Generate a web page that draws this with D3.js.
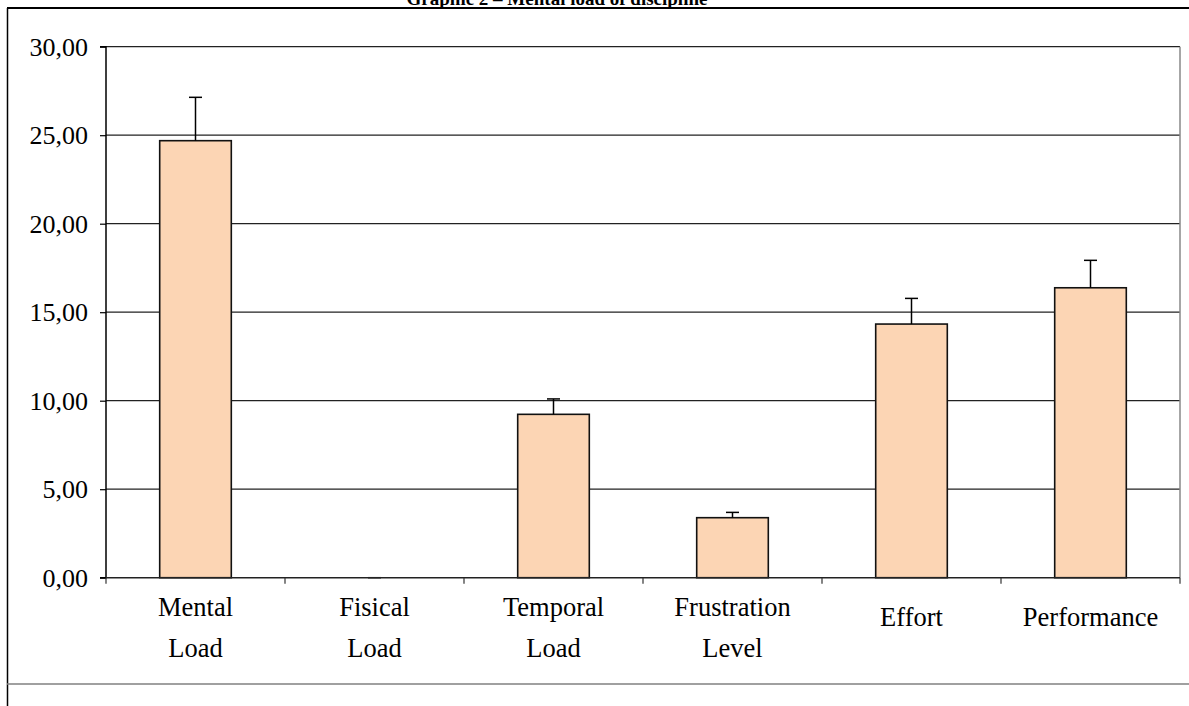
<!DOCTYPE html>
<html>
<head>
<meta charset="utf-8">
<script src="https://cdn.jsdelivr.net/npm/d3@7"></script>
<style>
  body { margin: 0; background: #fff; }
  svg text { font-family: "Liberation Serif", "DejaVu Serif", serif; fill: #000; }
</style>
</head>
<body>
<script>
// chart data
var categories = [['Mental', 'Load'], ['Fisical', 'Load'], ['Temporal', 'Load'],
                  ['Frustration', 'Level'], ['Effort'], ['Performance']];
var values = [24.69, 0, 9.23, 3.39, 14.33, 16.38];
var errors = [2.45, 0, 0.87, 0.30, 1.45, 1.55];
var yTicks = [0, 5, 10, 15, 20, 25, 30];
var title = 'Graphic 2 – Mental load of discipline';

var W = 1189, H = 706;
var margin = {top: 46.7, right: 9, bottom: 128.3, left: 106},
    w = W - margin.left - margin.right,
    h = H - margin.top - margin.bottom;

var svg = d3.select('body').append('svg')
    .attr('width', W)
    .attr('height', H);

// outer frame pieces
svg.append('line')
    .attr('x1', 7).attr('x2', W).attr('y1', 8).attr('y2', 8)
    .attr('stroke', '#000').attr('stroke-width', 2);
svg.append('line')
    .attr('x1', 7.5).attr('x2', 7.5).attr('y1', 8).attr('y2', H)
    .attr('stroke', '#000').attr('stroke-width', 1.5);
svg.append('line')
    .attr('x1', 7).attr('x2', W).attr('y1', 684).attr('y2', 684)
    .attr('stroke', '#808080').attr('stroke-width', 1.5);

svg.append('text')
    .attr('x', 557).attr('y', 5)
    .attr('text-anchor', 'middle')
    .style('font-size', '19px')
    .style('font-weight', 'bold')
    .text(title);

var g = svg.append('g')
    .attr('transform', 'translate(' + margin.left + ',' + margin.top + ')');

var xScale = d3.scaleBand()
    .domain(d3.range(categories.length))
    .range([0, w])
    .paddingInner(0)
    .paddingOuter(0);

var yScale = d3.scaleLinear()
    .domain([0, 30])
    .range([h, 0]);

// gridlines
g.selectAll('.grid')
  .data(yTicks.slice(1))
  .enter()
  .append('line')
    .attr('class', 'grid')
    .attr('x1', 0).attr('x2', w)
    .attr('y1', function (d) { return yScale(d); })
    .attr('y2', function (d) { return yScale(d); })
    .attr('stroke', '#222')
    .attr('stroke-width', 1.2);

// right edge of plot area
g.append('line')
    .attr('x1', w).attr('x2', w).attr('y1', 0).attr('y2', h)
    .attr('stroke', '#888').attr('stroke-width', 1.5);

var bw = xScale.bandwidth() / 2.5;

g.selectAll('.bar')
  .data(values)
  .enter()
  .append('rect')
    .attr('class', 'bar')
    .attr('x', function (d, i) { return xScale(i) + (xScale.bandwidth() - bw) / 2; })
    .attr('y', function (d) { return yScale(d); })
    .attr('width', bw)
    .attr('height', function (d) { return h - yScale(d); })
    .attr('fill', '#fcd5b4')
    .attr('stroke', '#111')
    .attr('stroke-width', 1.6);

// error bars
var eb = g.selectAll('.err')
  .data(values)
  .enter()
  .append('g')
    .attr('class', 'err')
    .attr('transform', function (d, i) {
      return 'translate(' + (xScale(i) + xScale.bandwidth() / 2) + ',0)';
    });

eb.append('line')
    .attr('x1', 0).attr('x2', 0)
    .attr('y1', function (d) { return yScale(d); })
    .attr('y2', function (d, i) { return yScale(d + errors[i]); })
    .attr('stroke', '#000').attr('stroke-width', 1.5);

eb.append('line')
    .attr('x1', -6.5).attr('x2', 6.5)
    .attr('y1', function (d, i) { return yScale(d + errors[i]); })
    .attr('y2', function (d, i) { return yScale(d + errors[i]); })
    .attr('stroke', '#000').attr('stroke-width', 1.5);

// y axis
var yAxis = d3.axisLeft(yScale)
    .tickValues(yTicks)
    .tickSize(6)
    .tickFormat(function (d) { return d3.format('.2f')(d).replace('.', ','); });

var ya = g.append('g').call(yAxis);
ya.select('.domain').attr('stroke', '#000').attr('stroke-width', 1.5).attr('d', 'M-6,0H0V' + h + 'H-6');
ya.selectAll('.tick line').attr('stroke', '#000').attr('stroke-width', 1.2);
ya.selectAll('.tick text')
    .attr('x', -18)
    .style('font-size', '26px')
    .style('font-family', '"Liberation Serif", serif');

// x axis
var xa = g.append('g')
    .attr('transform', 'translate(0,' + h + ')');

xa.append('line')
    .attr('x1', 0).attr('x2', w).attr('y1', 0).attr('y2', 0)
    .attr('stroke', '#222').attr('stroke-width', 1.5);

xa.selectAll('.xtick')
  .data(d3.range(categories.length + 1))
  .enter()
  .append('line')
    .attr('x1', function (d) { return d * xScale.step(); })
    .attr('x2', function (d) { return d * xScale.step(); })
    .attr('y1', 0).attr('y2', 6)
    .attr('stroke', '#333').attr('stroke-width', 1.2);

var labels = xa.selectAll('.xlab')
  .data(categories)
  .enter()
  .append('text')
    .attr('class', 'xlab')
    .attr('text-anchor', 'middle')
    .attr('transform', function (d, i) {
      return 'translate(' + (xScale(i) + xScale.bandwidth() / 2) + ',' + (d.length > 1 ? 38 : 48) + ')';
    })
    .style('font-size', '26.5px');

labels.selectAll('tspan')
  .data(function (d) { return d; })
  .enter()
  .append('tspan')
    .attr('x', 0)
    .attr('y', function (d, i) { return i * 41; })
    .text(function (d) { return d; });
</script>
</body>
</html>
